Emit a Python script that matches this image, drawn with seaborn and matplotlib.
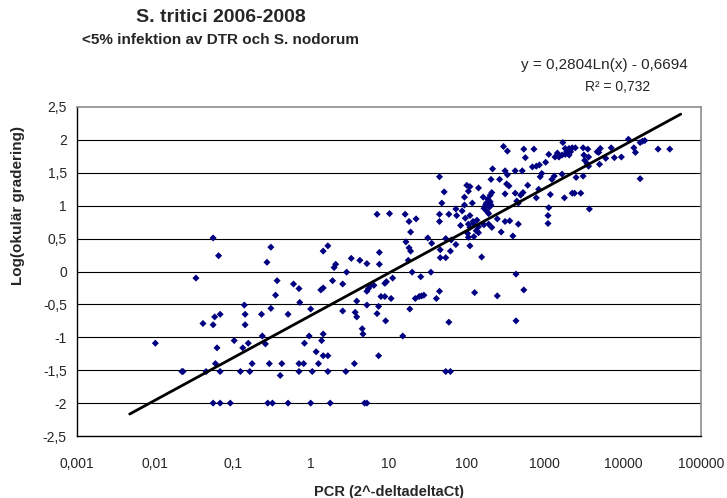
import numpy as np
import matplotlib
matplotlib.use("Agg")
import matplotlib.pyplot as plt
import seaborn as sns

# PCR value (as log10) and log(okular gradering)
pcr_log10 = [
    # low PCR
    -1.99, -1.65, -1.635, -1.47, -1.25, -1.18, -0.51, -0.56, -0.43, -0.22,
    -0.15, -0.45, -0.14, -0.85, -0.51, -1.23, -1.16, -0.84, -0.63, -0.29,
    -1.38, -1.25, -0.84, -0.62, -0.58, -0.80, -0.87, -0.98, -1.20, -1.22,
    -0.75, -0.53, -0.37, -0.15, -1.34, -1.16, -0.90, -0.78, -0.39, -0.15,
    -1.25, -1.16, -1.03, -0.55, -0.49, -0.29, 0.00, 0.25, 0.69, 0.72,
    # middle, upper part
    2.47, 2.52, 2.33, 2.49, 2.52, 1.65, 2.31, 2.42, 2.00, 2.04,
    2.15, 2.51, 2.54, 1.71, 2.02, 2.32, 2.30, 2.49, 1.97, 2.21,
    2.27, 2.30, 1.68, 1.97, 2.07, 2.24, 2.31, 1.86, 1.94, 0.85,
    1.01, 1.21, 1.65, 1.77, 1.87, 2.04, 2.28, 1.26, 1.35, 1.65,
    1.98, 2.08, 2.13, 2.39, 2.49, 2.55, 1.92, 2.15, 2.22, 2.32,
    1.28, 2.44, 2.01, 2.09, 1.50, 1.73, 1.80, 1.22, 1.55, 1.86,
    2.04, 1.26, 1.28, 1.66, 1.79, 0.16, 0.22, 0.88, 1.66, 1.73,
    2.19, 0.52, 0.63, 0.72, 0.32, 0.88, 1.25, 2.62, 2.69, 2.72,
    2.25, 2.29, 2.22, 2.26, 2.02, 2.04, 2.09, 2.12, 2.15, 2.28,
    2.02, 0.30, 1.42, 0.81,
    # middle, lower part
    0.46, 0.28, 0.41, 0.13, 0.16, 1.05, 0.95, 0.97, 0.76, 0.74,
    0.72, 1.30, 1.41, 1.54, 0.00, 0.41, 0.59, 0.72, 0.87, 0.90,
    0.95, 1.03, 0.57, 0.59, 0.85, 0.96, 1.27, 1.34, 1.39, 1.45,
    1.61, 1.65, 2.10, 2.39, 1.77, 0.66, 0.67, -0.02, -0.08, 0.14,
    0.16, 1.18, 0.07, 0.16, 0.22, 0.10, -0.09, 0.56, 0.87, 0.02,
    0.22, 0.45, 1.73, 1.79,
    # high PCR
    2.73, 2.86, 2.75, 3.23, 3.26, 3.31, 3.35, 3.39, 3.28, 3.33,
    3.31, 3.16, 3.13, 3.18, 3.22, 3.05, 3.49, 3.55, 3.50, 3.56,
    3.51, 3.67, 3.71, 3.69, 3.78, 3.85, 3.89, 3.98, 3.70, 3.56,
    4.07, 4.14, 4.16, 4.22, 4.25, 4.28, 4.45, 4.60, 4.22, 3.01,
    2.93, 2.89, 2.84, 2.62, 2.71, 2.96, 2.94, 3.12, 3.09, 3.22,
    3.40, 3.49, 2.78, 2.92, 2.89, 3.07, 3.25, 3.35, 3.38, 3.46,
    2.64, 2.66, 3.05, 3.57, 2.66, 3.04, 3.04, 2.59, 2.63, 2.73,
    2.63, 3.26, 3.54,
]

log_gradering = [
    # low PCR
    -1.09, -1.52, -1.52, -0.10, 0.51, 0.24, 0.37, 0.14, -0.14, -0.19,
    -0.26, -0.36, -0.47, -0.51, -0.56, -0.69, -0.65, -0.65, -0.65, -0.65,
    -0.79, -0.81, -0.81, -0.98, -1.10, -1.09, -1.16, -1.05, -1.16, -1.40,
    -1.40, -1.40, -1.40, -1.40, -1.52, -1.52, -1.52, -1.52, -1.58, -1.52,
    -2.0, -2.0, -2.0, -2.0, -2.0, -2.0, -2.0, -2.0, -2.0, -2.0,
    # middle, upper part
    1.90, 1.83, 1.56, 1.53, 1.47, 1.44, 1.40, 1.40, 1.31, 1.29,
    1.27, 1.33, 1.30, 1.21, 1.22, 1.20, 1.16, 1.18, 1.13, 1.13,
    1.10, 1.06, 1.04, 1.01, 1.04, 1.01, 1.01, 0.95, 0.92, 0.87,
    0.88, 0.87, 0.87, 0.87, 0.85, 0.85, 0.88, 0.76, 0.80, 0.76,
    0.81, 0.76, 0.78, 0.80, 0.76, 0.77, 0.70, 0.68, 0.71, 0.67,
    0.60, 0.60, 0.58, 0.53, 0.51, 0.50, 0.48, 0.45, 0.43, 0.41,
    0.39, 0.36, 0.31, 0.33, 0.31, 0.31, 0.39, 0.29, 0.21, 0.21,
    0.22, 0.20, 0.17, 0.12, 0.11, 0.11, 0.17, 1.19, 1.16, 1.20,
    1.04, 0.98, 0.96, 0.91, 0.72, 0.67, 0.72, 0.62, 0.59, 0.72,
    0.52, 0.06, -0.37, -0.21,
    # middle, lower part
    -0.01, -0.14, -0.19, -0.28, -0.25, -0.10, -0.18, -0.155, -0.22, -0.26,
    -0.30, -0.01, -0.08, -0.01, -0.57, -0.60, -0.45, -0.51, -0.53, -0.38,
    -0.38, -0.41, -0.62, -0.69, -0.64, -0.75, -0.57, -0.41, -0.38, -0.36,
    -0.41, -0.30, -0.32, -0.37, -0.77, -0.87, -0.95, -0.98, -1.09, -1.05,
    -0.95, -0.98, -1.22, -1.28, -1.28, -1.40, -1.40, -1.40, -1.28, -1.52,
    -1.52, -1.52, -1.52, -1.52,
    # high PCR
    1.86, 1.86, 1.73, 1.96, 1.87, 1.87, 1.88, 1.88, 1.82, 1.82,
    1.77, 1.80, 1.74, 1.74, 1.77, 1.78, 1.88, 1.86, 1.77, 1.74,
    1.69, 1.82, 1.87, 1.81, 1.72, 1.88, 1.73, 1.74, 1.63, 1.60,
    2.01, 1.88, 1.81, 1.96, 1.98, 1.99, 1.86, 1.86, 1.41, 1.66,
    1.62, 1.60, 1.59, 1.53, 1.53, 1.49, 1.44, 1.45, 1.40, 1.48,
    1.43, 1.45, 1.31, 1.25, 1.12, 1.17, 1.12, 1.19, 1.19, 1.19,
    1.07, 1.04, 0.97, 0.95, 0.72, 0.85, 0.73, 0.54, -0.04, -0.28,
    -0.75, 1.78, 1.64,
]

# logarithmic trendline from the chart: y = 0,2804Ln(x) - 0,6694
trend_a = 0.2804
trend_b = -0.6694
trend_range = (0.0048, 55000)

x_ticks = [0.001, 0.01, 0.1, 1, 10, 100, 1000, 10000, 100000]
x_ticklabels = ['0,001', '0,01', '0,1', '1', '10', '100', '1000', '10000', '100000']
y_ticks = [2.5, 2, 1.5, 1, 0.5, 0, -0.5, -1, -1.5, -2, -2.5]
y_ticklabels = ['2,5', '2', '1,5', '1', '0,5', '0', '-0,5', '-1', '-1,5', '-2', '-2,5']

sns.set_style('white')
plt.rcParams['font.family'] = ['Liberation Sans', 'DejaVu Sans']

pcr = 10 ** np.array(pcr_log10)
grad = np.array(log_gradering)

W, H = 727, 498
fig = plt.figure(figsize=(W / 100, H / 100), dpi=100)
ax = fig.add_axes([76.5 / W, 1 - 436 / H, (701 - 76.5) / W, (436 - 107) / H])

line_x = np.logspace(np.log10(trend_range[0]), np.log10(trend_range[1]), 200)
line_y = trend_a * np.log(line_x) + trend_b

sns.scatterplot(x=pcr, y=grad, marker='D', color='#000080', s=13,
                edgecolor='none', linewidth=0, ax=ax, zorder=3)
sns.lineplot(x=line_x, y=line_y, color='black', linewidth=2, ax=ax, zorder=4)

ax.set_xscale('log')
ax.set_xlim(0.001, 100000)
ax.set_ylim(-2.5, 2.5)
ax.set_xticks(x_ticks)
ax.set_xticklabels(x_ticklabels)
ax.minorticks_off()
ax.set_yticks(y_ticks)
ax.set_yticklabels(y_ticklabels)
ax.tick_params(axis='both', labelsize=10, direction='out', length=4, width=1,
               color='black')
ax.tick_params(axis='x', pad=11)
ax.tick_params(axis='y', pad=3)

for yv in y_ticks[1:-1]:
    ax.axhline(yv, color='black', linewidth=0.8, zorder=1)

for side in ['left', 'bottom']:
    ax.spines[side].set_color('black')
    ax.spines[side].set_linewidth(1)
for side in ['top', 'right']:
    ax.spines[side].set_color('#8c8c8c')
    ax.spines[side].set_linewidth(1.2)

ax.set_xlabel('PCR (2^-deltadeltaCt)', fontsize=10.5, fontweight='bold', labelpad=10)
ax.set_ylabel('')
fig.text(18 / W, 1 - 205 / H, 'Log(okulär gradering)', rotation=90, fontsize=11,
         fontweight='bold', ha='center', va='center')

fig.text(221 / W, 1 - 17 / H, 'S. tritici 2006-2008', fontsize=14,
         fontweight='bold', ha='center', va='center')
fig.text(220 / W, 1 - 40 / H, '<5% infektion av DTR och S. nodorum', fontsize=11,
         fontweight='bold', ha='center', va='center')
fig.text(604 / W, 1 - 65 / H, 'y = 0,2804Ln(x) - 0,6694', fontsize=11,
         ha='center', va='center')
fig.text(618 / W, 1 - 87 / H, 'R² = 0,732', fontsize=10, ha='center', va='center')

fig.savefig('out.png', dpi=100)
